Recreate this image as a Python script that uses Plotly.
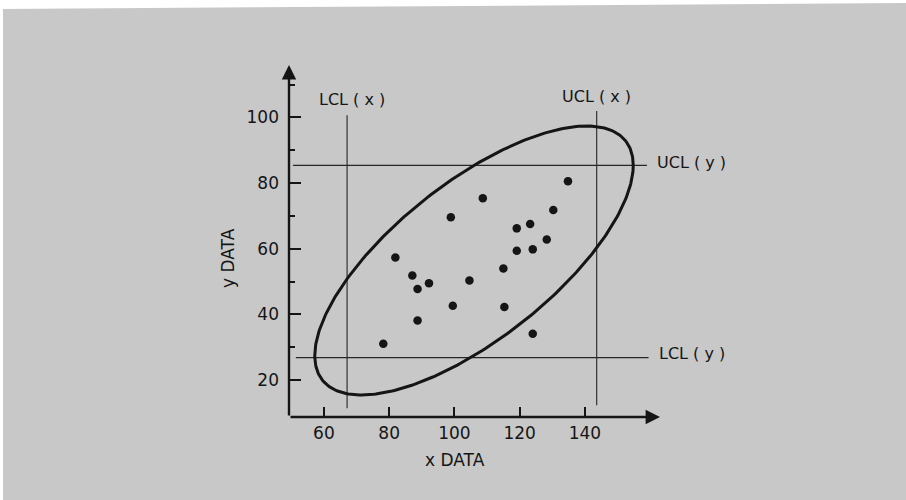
import numpy as np
import plotly.graph_objects as go

# ---- data ----
x_data = [78.2, 81.9, 87.1, 88.7, 92.2, 88.7, 98.9, 99.5, 104.6, 108.7,
          115.0, 115.3, 119.1, 119.1, 123.2, 124.0, 128.3, 130.3, 134.8, 124.0]
y_data = [31.0, 57.3, 51.8, 47.7, 49.5, 38.1, 69.6, 42.6, 50.3, 75.4,
          54.0, 42.2, 66.2, 59.4, 67.5, 59.8, 62.8, 71.8, 80.6, 34.1]

# control limits
lcl_x, ucl_x = 67.1, 143.6
lcl_y, ucl_y = 26.8, 85.4

# control ellipse parameters (centre, half-ranges, phase shift in degrees)
ell_cx, ell_cy = 106.0, 56.4
ell_ax, ell_by = 48.8, 41.0
ell_phase_deg = 45.0

x_ticks = [60, 80, 100, 120, 140]
y_ticks = [20, 40, 60, 80, 100]
y_minor = [30, 50, 70, 90, 110]

x_range = [49.3, 163.0]
y_range = [8.7, 116.0]

INK = "#151515"
BG = "#c8c8c8"
FONT = "DejaVu Sans, Verdana, sans-serif"

# plot-area geometry (pixels) used for paper-coordinate conversions
L, R, T, B = 289, 660, 65, 417
W, H = R - L, B - T


def px(xp):
    return (xp - L) / W


def py(yp):
    return (B - yp) / H


t = np.linspace(0, 2 * np.pi, 361)
ell_x = ell_cx + ell_ax * np.cos(t)
ell_y = ell_cy + ell_by * np.cos(t - np.deg2rad(ell_phase_deg))

fig = go.Figure()

line_style = dict(color="#262626", width=1.1)
fig.add_trace(go.Scatter(x=[lcl_x, lcl_x], y=[100.7, 11.4], mode="lines",
                         line=line_style, hoverinfo="skip"))
fig.add_trace(go.Scatter(x=[ucl_x, ucl_x], y=[102.0, 12.3], mode="lines",
                         line=line_style, hoverinfo="skip"))
fig.add_trace(go.Scatter(x=[50.5, 159.0], y=[ucl_y, ucl_y], mode="lines",
                         line=line_style, hoverinfo="skip"))
fig.add_trace(go.Scatter(x=[51.4, 159.5], y=[lcl_y, lcl_y], mode="lines",
                         line=line_style, hoverinfo="skip"))

# ellipse
fig.add_trace(go.Scatter(x=ell_x, y=ell_y, mode="lines",
                         line=dict(color=INK, width=3), hoverinfo="skip"))

# data points
fig.add_trace(go.Scatter(x=x_data, y=y_data, mode="markers",
                         marker=dict(color=INK, size=8.5), hoverinfo="skip"))

# axes with arrows
fig.add_annotation(x=x_range[1], y=y_range[0], ax=x_range[0], ay=y_range[0],
                   xref="x", yref="y", axref="x", ayref="y", text="",
                   showarrow=True, arrowhead=2, arrowsize=1.2, arrowwidth=2.4,
                   arrowcolor=INK)
fig.add_annotation(x=x_range[0], y=y_range[1], ax=x_range[0], ay=y_range[0],
                   xref="x", yref="y", axref="x", ayref="y", text="",
                   showarrow=True, arrowhead=2, arrowsize=1.2, arrowwidth=2.4,
                   arrowcolor=INK)

lab_font = dict(family=FONT, size=16, color=INK)
fig.add_annotation(x=68.7, y=105.6, xref="x", yref="y", text="LCL ( x )",
                   showarrow=False, font=lab_font, xanchor="center", yanchor="middle")
fig.add_annotation(x=143.6, y=106.4, xref="x", yref="y", text="UCL ( x )",
                   showarrow=False, font=lab_font, xanchor="center", yanchor="middle")
fig.add_annotation(x=161.5, y=86.4, xref="x", yref="y", text="UCL ( y )",
                   showarrow=False, font=lab_font, xanchor="left", yanchor="middle")
fig.add_annotation(x=162.0, y=28.0, xref="x", yref="y", text="LCL ( y )",
                   showarrow=False, font=lab_font, xanchor="left", yanchor="middle")

# axis titles
title_font = dict(family=FONT, size=17, color=INK)
fig.add_annotation(x=px(455), y=py(460), xref="paper", yref="paper", text="x DATA",
                   showarrow=False, font=title_font, xanchor="center", yanchor="middle")
fig.add_annotation(x=px(228), y=py(258), xref="paper", yref="paper", text="y DATA",
                   showarrow=False, font=title_font, textangle=-90,
                   xanchor="center", yanchor="middle")

# white scan margins at top and left
fig.add_shape(type="path", xref="paper", yref="paper",
              path=f"M {px(-5)},{py(-5)} L {px(915)},{py(-5)} L {px(915)},{py(3)} "
                   f"L {px(-5)},{py(9)} Z",
              fillcolor="white", line=dict(width=0), layer="below")
fig.add_shape(type="rect", xref="paper", yref="paper",
              x0=px(-5), x1=px(3), y0=py(510), y1=py(-5),
              fillcolor="white", line=dict(width=0), layer="below")

fig.update_layout(
    width=906, height=500,
    margin=dict(l=L, r=906 - R, t=T, b=500 - B),
    paper_bgcolor=BG,
    plot_bgcolor="rgba(0,0,0,0)",
    showlegend=False,
    font=dict(family=FONT, color=INK),
)
fig.update_xaxes(range=x_range, tickmode="array", tickvals=x_ticks,
                 ticks="inside", ticklen=10, tickwidth=1.8, tickcolor=INK,
                 ticklabelstandoff=4,
                 showgrid=False, zeroline=False, showline=False,
                 tickfont=dict(family=FONT, size=17, color=INK))
fig.update_yaxes(range=y_range, tickmode="array", tickvals=y_ticks,
                 ticks="inside", ticklen=12, tickwidth=1.8, tickcolor=INK,
                 ticklabelstandoff=9,
                 showgrid=False, zeroline=False, showline=False,
                 minor=dict(tickmode="array", tickvals=y_minor, ticks="inside",
                            ticklen=6, tickwidth=1.8, tickcolor=INK, showgrid=False),
                 tickfont=dict(family=FONT, size=17, color=INK))

fig.write_html(
    "out.html",
    post_script=(
        "document.documentElement.style.backgroundColor='" + BG + "';"
        "document.body.style.backgroundColor='" + BG + "';"
        "document.body.style.margin='0';"
    ),
)
